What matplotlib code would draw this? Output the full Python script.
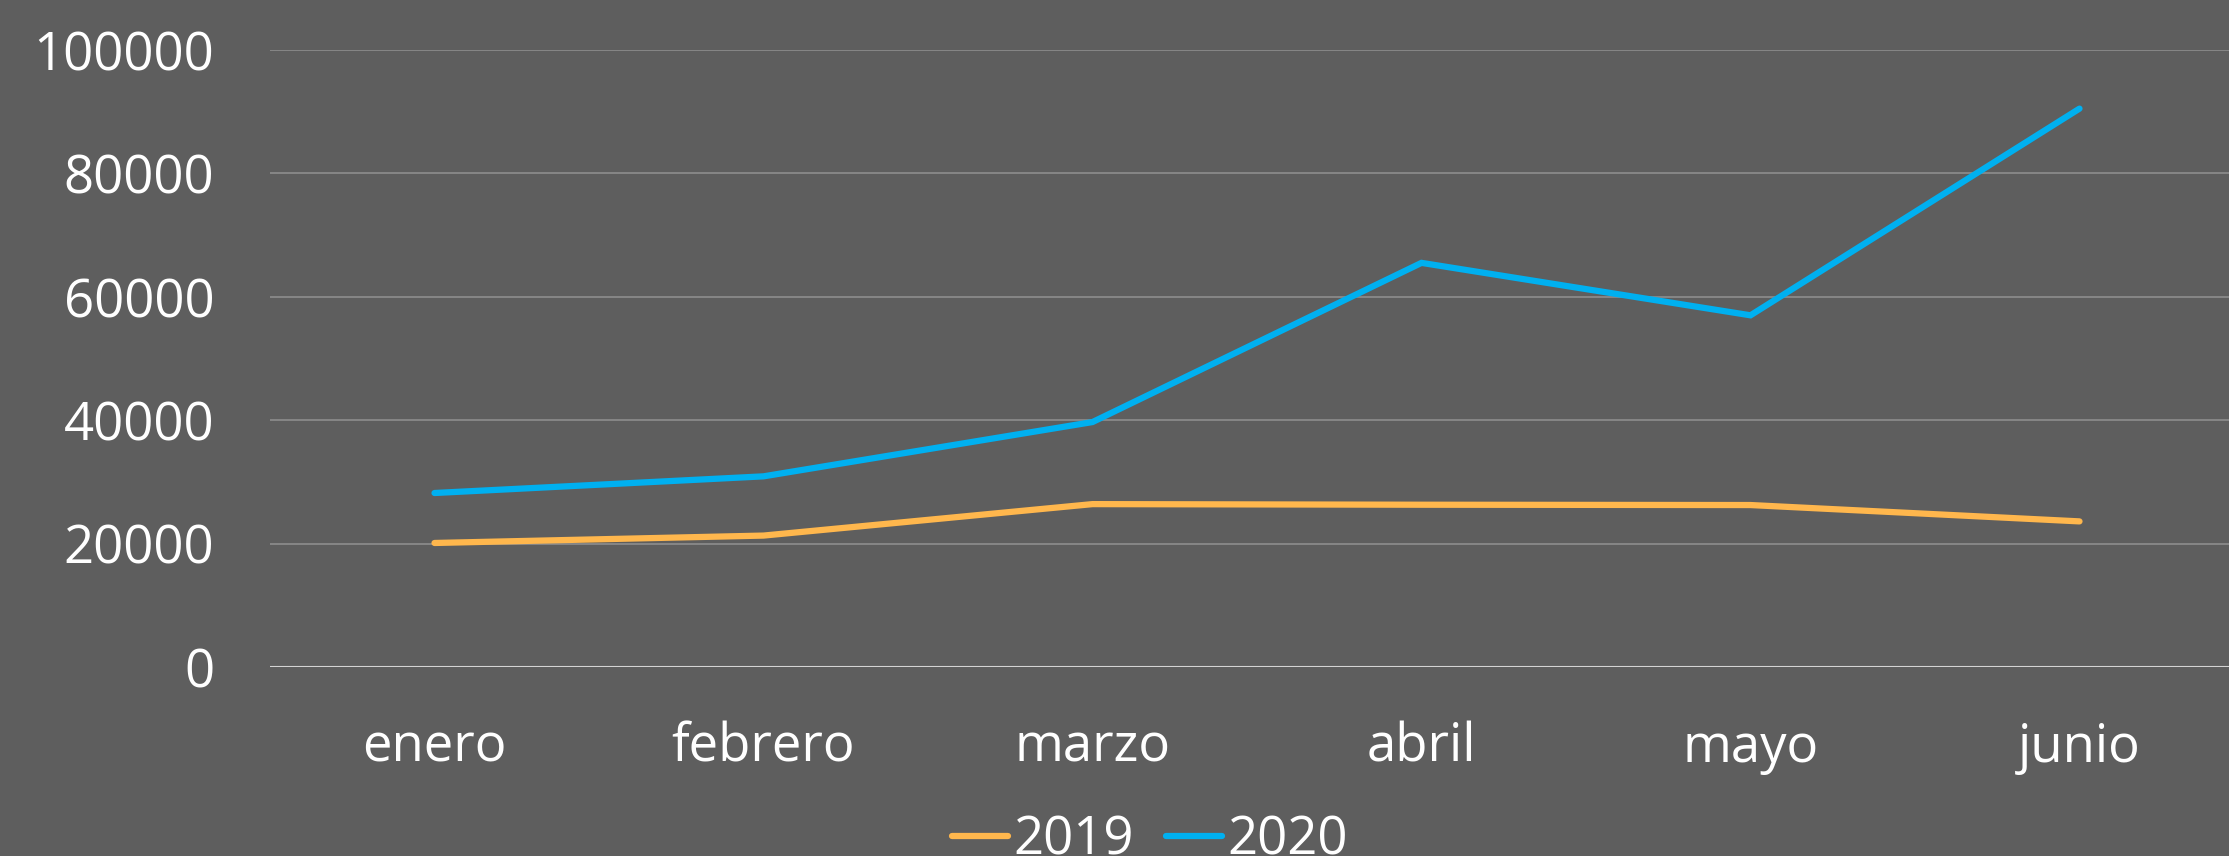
import matplotlib
matplotlib.use("Agg")
import matplotlib.pyplot as plt
from matplotlib.ticker import FixedLocator

months = ["enero", "febrero", "marzo", "abril", "mayo", "junio"]
s2019 = [20100, 21300, 26400, 26300, 26250, 23600]
s2020 = [28200, 30900, 39700, 65500, 57000, 90500]
yticks = [0, 20000, 40000, 60000, 80000, 100000]

BG = "#5E5E5E"
plt.rcParams['font.family'] = ['Open Sans', 'DejaVu Sans']

fig = plt.figure(figsize=(22.29, 8.56), dpi=100, facecolor=BG)
ax = fig.add_axes([270 / 2229, (856 - 667) / 856, 1974 / 2229, (667 - 50) / 856])
ax.set_facecolor(BG)

x = list(range(len(months)))
ax.plot(x, s2019, color="#FFB74D", lw=4.5, solid_capstyle="round", solid_joinstyle="miter", label="2019", zorder=3)
ax.plot(x, s2020, color="#00B0F0", lw=4.5, solid_capstyle="round", solid_joinstyle="miter", label="2020", zorder=3)

ax.set_xlim(-0.5, len(months) - 0.5)
ax.set_ylim(0, 100000)
ax.yaxis.set_major_locator(FixedLocator(yticks))
ax.set_yticklabels([str(v) for v in yticks])
ax.set_xticks(x)
ax.set_xticklabels(months)

for v in yticks[1:]:
    ax.axhline(v, color="#8A8A8A", lw=1.3, zorder=1)
ax.axhline(0, color="#D4D4D4", lw=1.5, zorder=2)

for s in ax.spines.values():
    s.set_visible(False)
ax.tick_params(axis="both", length=0, colors="white", labelsize=38)
ax.tick_params(axis="y", pad=40)
ax.tick_params(axis="x", pad=39)

leg = fig.legend(loc="center", bbox_to_anchor=(1150 / 2229, 1 - 841 / 856), ncol=2, frameon=False,
                 fontsize=38, handlelength=1.06, handletextpad=0.1, columnspacing=0.6,
                 borderpad=0, borderaxespad=0)
for t in leg.get_texts():
    t.set_color("white")

fig.savefig("out.png", dpi=100, facecolor=BG)
